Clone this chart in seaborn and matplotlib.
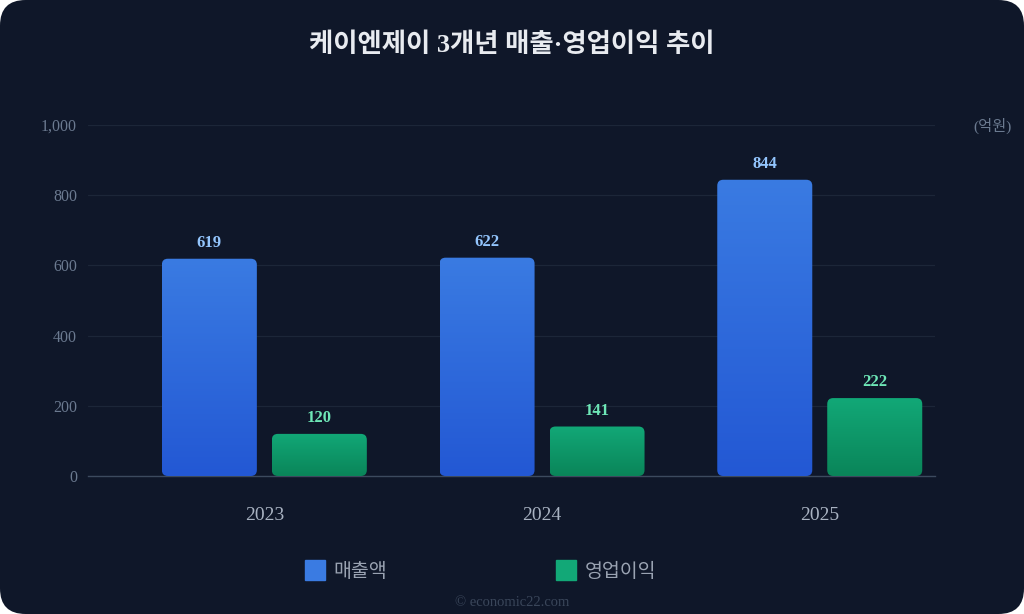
import numpy as np
import pandas as pd
import matplotlib
matplotlib.use("Agg")
import matplotlib.pyplot as plt
import seaborn as sns
from matplotlib.patches import FancyBboxPatch
from matplotlib.lines import Line2D
from matplotlib.colors import LinearSegmentedColormap

years = ["2023", "2024", "2025"]
series_names = ["매출액", "영업이익"]
revenue = [619, 622, 844]
op_profit = [120, 141, 222]
y_ticks = [0, 200, 400, 600, 800, 1000]
y_tick_labels = ["0", "200", "400", "600", "800", "1,000"]

title = "케이엔제이 3개년 매출·영업이익 추이"
unit_label = "(억원)"
credit = "© economic22.com"

BG = "#0f1729"
bar_top = {"매출액": "#3a7be2", "영업이익": "#12a877"}
bar_bottom = {"매출액": "#2358d4", "영업이익": "#0a8559"}
label_color = {"매출액": "#93c5fd", "영업이익": "#6ee7b7"}

df = pd.DataFrame({
    "year": years * 2,
    "series": [series_names[0]] * 3 + [series_names[1]] * 3,
    "value": revenue + op_profit,
})

sns.set_theme(style="dark")
plt.rcParams["font.family"] = ["Liberation Serif", "Noto Sans CJK KR", "DejaVu Sans"]

fig = plt.figure(figsize=(10.24, 6.14), dpi=100, facecolor="white")
card = FancyBboxPatch((0, 0), 1, 1, boxstyle="round,pad=0,rounding_size=0.025",
                      transform=fig.transFigure, facecolor=BG, edgecolor="none",
                      mutation_aspect=1024 / 614, zorder=-10)
fig.patches.append(card)

ax = fig.add_axes([88 / 1024, 1 - 476 / 614, (935 - 88) / 1024, (476 - 125) / 614])
ax.set_facecolor(BG)

sns.barplot(data=df, x="year", y="value", hue="series", hue_order=series_names,
            palette=[bar_top[s] for s in series_names], width=0.792, gap=0.136,
            legend=False, ax=ax)

XLIM = (-0.635, 2.415)
ax.set_xlim(*XLIM)
ax.set_ylim(0, 1000)
fig.canvas.draw()

# px per data unit, used to keep the rounded corners round
px = ax.transData.transform([(0, 0), (1, 1)])
sx = px[1, 0] - px[0, 0]
sy = px[1, 1] - px[0, 1]
radius_px = 6

bars = [p for p in ax.patches]
for i, p in enumerate(bars):
    name = series_names[i // len(years)]
    x, w, h = p.get_x(), p.get_width(), p.get_height()
    p.set_visible(False)
    r = radius_px / sx
    rounded = FancyBboxPatch((x, 0), w, h, boxstyle=f"round,pad=0,rounding_size={r}",
                             mutation_aspect=sx / sy, facecolor="none",
                             edgecolor="none", zorder=3)
    ax.add_patch(rounded)
    cmap = LinearSegmentedColormap.from_list(name, [bar_bottom[name], bar_top[name]])
    grad = np.linspace(0, 1, 256).reshape(-1, 1)
    im = ax.imshow(grad, cmap=cmap, origin="lower", aspect="auto",
                   extent=(x, x + w, 0, h), zorder=3)
    im.set_clip_path(rounded)
    ax.text(x + w / 2, h + 8 / sy, f"{int(round(h))}", ha="center", va="bottom",
            color=label_color[name], fontsize=12, fontweight="bold")

ax.set_xlim(*XLIM)
ax.set_ylim(0, 1000)

ax.set_yticks(y_ticks)
ax.set_yticklabels(y_tick_labels)
ax.tick_params(axis="y", colors="#6b7a90", labelsize=11.5, length=0, pad=8)
ax.tick_params(axis="x", colors="#a9b3c2", labelsize=14, length=0, pad=22)
ax.set_xlabel("")
ax.set_ylabel("")
for s in ["top", "right", "left"]:
    ax.spines[s].set_visible(False)
ax.spines["bottom"].set_color("#3c4a5e")
ax.spines["bottom"].set_linewidth(1)
ax.grid(axis="y", color="#1c2638", linewidth=0.9)
ax.grid(axis="x", visible=False)
ax.set_axisbelow(True)

fig.text(0.5, 1 - 45 / 614, title, ha="center", va="center", color="#e8ebf0",
         fontsize=19, fontweight="bold")
fig.text(992 / 1024, 1 - 126 / 614, unit_label, ha="center", va="center",
         color="#6b7a90", fontsize=11)

handles = [Line2D([0], [0], marker="s", linestyle="none", markersize=15,
                  markerfacecolor=bar_top[s], markeredgecolor=bar_top[s]) for s in series_names]
leg = fig.legend(handles, series_names, loc="center", bbox_to_anchor=(481 / 1024, 1 - 572 / 614),
                 ncol=2, frameon=False, columnspacing=8.7, handlelength=1.0,
                 handletextpad=0.45, fontsize=14)
for t in leg.get_texts():
    t.set_color("#9aa3b2")

fig.text(0.5, 1 - 602 / 614, credit, ha="center", va="center", color="#3a465a", fontsize=10.5)

fig.savefig("out.png", dpi=100, facecolor="white")
